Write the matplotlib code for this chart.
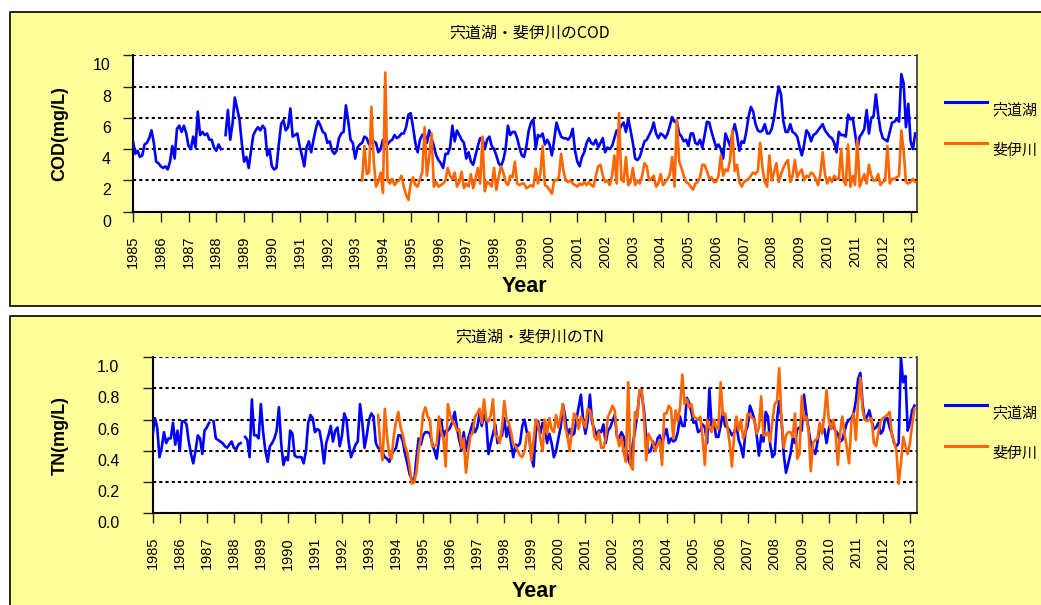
import numpy as np
import matplotlib.pyplot as plt
from matplotlib.patches import Rectangle
from matplotlib.lines import Line2D
from matplotlib.transforms import ScaledTranslation

plt.rcParams['font.family'] = ['Liberation Sans', 'Noto Sans CJK JP']
JP = ['Noto Sans CJK JP', 'DejaVu Sans']

BLUE = '#0000FF'
ORANGE = '#FF6600'
PANEL = '#FFFF99'

nan = np.nan

# monthly COD (mg/L), lake from Jan 1985, river from Apr 1993
cod_lake_start = 1985.0
cod_lake = [
    4.5, 3.7, 3.9, 3.5, 3.6, 4.3, 4.4, 4.7, 5.2, 4.4, 3.2, 3.1,   # 1985
    2.9, 2.8, 2.9, 2.7, 3.2, 4.2, 3.4, 5.3, 5.5, 5.1, 5.5, 5.0,   # 1986
    4.2, 4.0, 4.8, 4.1, 6.4, 4.9, 5.1, 4.9, 5.0, 4.6, 4.6, 4.1,   # 1987
    3.9, 4.3, 4.0, nan, 4.9, 6.5, 4.6, 5.6, 7.3, 6.6, 5.9, 4.4,   # 1988
    3.2, 3.5, 2.8, 3.9, 4.9, 5.2, 5.4, 5.2, 5.5, 5.3, 3.6, 4.0,   # 1989
    2.9, 2.7, 2.8, 4.3, 5.6, 5.85, 5.2, 5.4, 6.6, 4.8, 4.9, 5.0,  # 1990
    4.2, 3.6, 2.9, 4.1, 4.5, 3.8, 4.6, 5.3, 5.8, 5.5, 5.1, 5.0,   # 1991
    4.4, 4.5, 3.9, 3.7, 3.9, 4.7, 5.0, 5.1, 6.8, 5.8, 4.6, 4.4,   # 1992
    3.4, 4.1, 4.3, 4.4, 4.8, 4.7, 4.3, 4.4, 4.5, 4.4, 3.8, 4.0,   # 1993
    4.6, 4.6, 4.3, 4.5, 4.6, 4.9, 4.7, 4.8, 5.0, 5.0, 5.4, 6.2,   # 1994
    6.3, 5.4, 4.4, 3.8, 4.6, 4.9, 5.0, 4.4, 5.2, 4.7, 4.2, 3.6,   # 1995
    3.3, 3.1, 2.8, 3.7, 3.7, 4.1, 5.5, 4.5, 5.2, 4.9, 4.6, 4.4,   # 1996
    3.4, 3.8, 3.2, 3.0, 3.6, 4.2, 4.7, 4.7, 4.0, 4.6, 4.8, 4.2,   # 1997
    4.0, 3.6, 3.1, 2.9, 3.3, 4.0, 5.5, 4.9, 5.1, 5.1, 4.7, 4.1,   # 1998
    3.6, 3.5, 4.2, 5.2, 5.7, 5.9, 4.0, 4.9, 4.8, 5.0, 4.3, 4.6,   # 1999
    4.3, 3.6, 4.6, 5.7, 5.2, 4.8, 4.7, 4.7, 4.6, 4.8, 5.3, 3.9,   # 2000
    3.2, 2.9, 3.5, 3.8, 4.4, 4.7, 4.4, 4.3, 4.6, 4.1, 4.4, 4.7,   # 2001
    3.8, 4.1, 4.0, 4.2, 4.7, 5.2, 5.2, 5.5, 5.7, 5.1, 5.95, 5.2,  # 2002
    4.4, 3.4, 3.3, 3.5, 4.0, 4.5, 4.6, 4.9, 5.2, 5.7, 5.0, 4.7,   # 2003
    5.0, 4.9, 4.7, 5.0, 5.5, 6.05, 5.75, 5.75, 5.0, 4.8, 4.5, 4.6,  # 2004
    4.2, 5.0, 5.0, 4.4, 4.3, 4.6, 4.1, 4.9, 5.75, 5.7, 5.1, 4.6,  # 2005
    4.1, 4.3, 4.0, 3.4, 5.0, 4.6, 4.2, 5.0, 5.6, 4.9, 3.9, 4.5,   # 2006
    4.4, 5.1, 6.1, 6.7, 6.4, 5.6, 5.2, 5.1, 5.2, 5.6, 5.0, 5.0,   # 2007
    5.3, 6.0, 7.1, 8.0, 7.5, 5.8, 5.1, 5.1, 5.6, 5.1, 5.0, 4.8,   # 2008
    4.15, 3.6, 4.3, 5.2, 5.0, 4.5, 4.9, 5.0, 5.2, 5.4, 5.6, 5.2,  # 2009
    5.0, 4.8, 4.7, 4.4, 3.8, 5.1, 4.9, 4.9, 4.8, 6.2, 5.9, 6.0,   # 2010
    5.0, 4.0, 4.8, 5.0, 5.3, 6.5, 5.0, 6.0, 6.1, 7.5, 6.2, 5.2,   # 2011
    4.7, 4.6, 4.5, 5.1, 5.7, 5.75, 5.95, 5.75, 8.8, 8.2, 5.4, 6.9,  # 2012
    4.5, 4.0, 5.0,                                                # 2013
]
cod_river_start = 1993 + 3 / 12
cod_river = [
    2.0, 4.2, 2.4, 2.5, 6.7, 3.3, 1.6, 1.9, 2.5,                  # 1993
    1.2, 8.9, 2.0, 1.8, 2.1, 1.7, 1.9, 2.0, 2.3, 1.6, 1.1, 0.75,  # 1994
    1.8, 2.2, 1.7, 1.6, 2.1, 2.5, 5.4, 2.3, 3.5, 5.0, 1.6, 1.9,   # 1995
    1.6, 1.7, 1.8, 2.0, 2.8, 2.3, 2.1, 2.5, 1.6, 1.9, 2.55, 1.5,  # 1996
    1.8, 1.6, 2.4, 1.5, 2.1, 2.8, 1.8, 4.8, 1.3, 1.9, 1.8, 1.6,   # 1997
    2.8, 1.4, 2.2, 2.9, 2.5, 1.9, 1.7, 2.3, 2.2, 3.2, 1.8, 1.7,   # 1998
    1.8, 1.8, 1.5, 1.6, 1.7, 1.6, 2.75, 1.8, 2.4, 4.2, 1.7, 1.6,  # 1999
    1.4, 1.15, 2.0, 2.0, 2.2, 3.7, 2.6, 2.0, 1.9, 2.0, 1.8, 1.7,  # 2000
    1.6, 1.8, 1.7, 1.9, 1.7, 1.9, 1.7, 1.6, 2.3, 2.9, 3.0, 2.3,   # 2001
    1.9, 2.0, 1.7, 2.3, 3.6, 1.8, 6.3, 2.1, 1.9, 3.5, 1.7, 1.9,   # 2002
    2.8, 1.7, 2.0, 1.8, 2.3, 3.1, 2.9, 2.0, 2.1, 2.3, 1.6, 1.8,   # 2003
    2.4, 1.7, 1.9, 2.1, 2.4, 3.5, 1.6, 5.9, 3.2, 2.8, 2.3, 1.9,   # 2004
    1.8, 1.6, 1.4, 1.8, 1.9, 2.2, 3.0, 3.0, 2.6, 2.1, 2.2, 1.9,   # 2005
    1.9, 2.3, 3.6, 2.3, 2.7, 2.6, 3.3, 5.2, 2.6, 3.0, 1.9, 1.6,   # 2006
    1.9, 2.0, 2.1, 2.3, 2.5, 2.4, 2.6, 4.4, 2.8, 1.9, 1.6, 3.6,   # 2007
    2.0, 2.5, 3.1, 1.9, 2.4, 2.8, 3.1, 3.3, 1.9, 2.3, 3.3, 2.2,   # 2008
    2.5, 2.7, 2.0, 2.3, 2.2, 2.5, 2.4, 2.1, 1.7, 2.4, 3.8, 2.4,   # 2009
    1.8, 2.2, 1.9, 2.3, 2.1, 2.1, 4.0, 2.0, 1.7, 4.3, 1.6, 2.3,   # 2010
    1.7, 4.6, 1.6, 2.0, 2.4, 1.8, 3.0, 2.3, 2.0, 2.0, 2.4, 1.7,   # 2011
    1.9, 2.0, 4.2, 1.8, 2.1, 2.1, 2.2, 2.3, 5.2, 3.9, 1.9, 1.8,   # 2012
    1.9, 2.1, 1.9,                                                # 2013
]

# monthly TN (mg/L), lake from Jan 1985, river from May 1993
tn_lake_start = 1985.0
tn_lake = [
    0.50, 0.61, 0.55, 0.36, 0.42, 0.52, 0.45, 0.48, 0.48, 0.58, 0.44, 0.53,  # 1985
    0.40, 0.59, 0.59, 0.57, 0.46, 0.38, 0.32, 0.40, 0.50, 0.48, 0.38, 0.53,  # 1986
    0.55, 0.58, nan, 0.59, 0.48, 0.47, 0.46, 0.45, 0.43, 0.42, 0.44, 0.46,   # 1987
    0.42, 0.41, 0.44, 0.45, nan, 0.49, 0.47, 0.36, 0.73, 0.50, 0.50, 0.48,   # 1988
    0.70, 0.52, 0.40, 0.33, 0.43, 0.45, 0.48, 0.53, 0.68, 0.45, 0.31, 0.36,  # 1989
    0.34, 0.53, 0.51, 0.37, 0.36, 0.36, 0.36, 0.32, 0.40, 0.58, 0.63, 0.61,  # 1990
    0.52, 0.54, 0.53, 0.45, 0.32, 0.45, 0.50, 0.56, 0.46, 0.53, 0.55, 0.43,  # 1991
    0.50, 0.64, 0.60, 0.45, 0.36, 0.40, 0.44, 0.46, 0.70, 0.58, 0.42, 0.50,  # 1992
    0.60, 0.64, 0.62, 0.45, 0.42, 0.41, 0.39, 0.36, 0.35, 0.33, 0.38, 0.40,  # 1993
    0.42, 0.50, 0.50, 0.46, 0.38, 0.32, 0.25, 0.22, 0.20, 0.35, 0.48, 0.44,  # 1994
    0.50, 0.52, 0.52, 0.51, 0.45, 0.40, 0.35, 0.47, 0.60, 0.49, 0.53, 0.53,  # 1995
    0.55, 0.59, 0.65, 0.55, 0.47, 0.41, 0.52, 0.41, 0.48, 0.53, 0.58, 0.52,  # 1996
    0.55, 0.64, 0.56, 0.63, 0.59, 0.38, 0.45, 0.51, 0.57, 0.45, 0.48, 0.50,  # 1997
    0.61, 0.49, 0.56, 0.45, 0.36, 0.44, 0.43, 0.45, 0.56, 0.60, 0.52, 0.50,  # 1998
    0.36, 0.30, 0.52, 0.59, 0.51, 0.58, 0.55, 0.45, 0.51, 0.45, 0.36, 0.40,  # 1999
    0.48, 0.55, 0.70, 0.62, 0.49, 0.54, 0.50, 0.51, 0.60, 0.68, 0.76, 0.60,  # 2000
    0.51, 0.59, 0.76, 0.58, 0.54, 0.50, 0.53, 0.52, 0.57, 0.45, 0.53, 0.55,  # 2001
    0.59, 0.63, 0.49, 0.48, 0.52, 0.49, 0.41, 0.35, 0.31, 0.44, 0.53, 0.63,  # 2002
    0.78, 0.76, 0.66, 0.48, 0.39, 0.40, 0.46, 0.40, 0.48, 0.50, 0.44, 0.50,  # 2003
    0.54, 0.45, 0.48, 0.46, 0.47, 0.52, 0.62, 0.56, 0.56, 0.74, 0.71, 0.65,  # 2004
    0.58, 0.59, 0.52, 0.53, 0.57, 0.55, 0.45, 0.80, 0.56, 0.59, 0.49, 0.49,  # 2005
    0.56, 0.65, 0.56, 0.55, 0.53, 0.50, 0.52, 0.57, 0.47, 0.43, 0.36, 0.52,  # 2006
    0.56, 0.69, 0.65, 0.60, 0.50, 0.37, 0.50, 0.46, 0.65, 0.62, 0.44, 0.36,  # 2007
    0.38, 0.60, 0.72, 0.60, 0.38, 0.26, 0.32, 0.38, 0.48, 0.45, 0.54, 0.55,  # 2008
    0.53, 0.76, 0.64, 0.54, 0.45, 0.41, 0.38, 0.46, 0.56, 0.52, 0.54, 0.45,  # 2009
    0.54, 0.59, 0.55, 0.53, 0.51, 0.46, 0.47, 0.53, 0.58, 0.60, 0.61, 0.64,  # 2010
    0.72, 0.86, 0.90, 0.70, 0.60, 0.62, 0.66, 0.59, 0.54, 0.55, 0.58, 0.51,  # 2011
    0.53, 0.61, 0.61, 0.55, 0.51, 0.45, 0.43, 0.45, 1.00, 0.84, 0.88, 0.53,  # 2012
    0.58, 0.66, 0.69,                                                        # 2013
]
tn_river_start = 1993 + 4 / 12
tn_river = [
    0.63, 0.44, 0.34, 0.67, 0.49, 0.37, 0.35, 0.50,                          # 1993
    0.59, 0.65, 0.55, 0.50, 0.43, 0.39, 0.30, 0.19, 0.20, 0.26, 0.40, 0.49,  # 1994
    0.64, 0.68, 0.62, 0.60, 0.43, 0.43, 0.44, 0.62, 0.52, 0.48, 0.30, 0.70,  # 1995
    0.63, 0.59, 0.57, 0.53, 0.54, 0.42, 0.48, 0.26, 0.40, 0.50, 0.51, 0.62,  # 1996
    0.64, 0.67, 0.58, 0.73, 0.60, 0.59, 0.63, 0.73, 0.50, 0.49, 0.45, 0.55,  # 1997
    0.72, 0.60, 0.58, 0.52, 0.44, 0.43, 0.40, 0.37, 0.36, 0.40, 0.50, 0.52,  # 1998
    0.34, 0.47, 0.60, 0.57, 0.48, 0.40, 0.60, 0.51, 0.61, 0.54, 0.52, 0.63,  # 1999
    0.55, 0.62, 0.70, 0.55, 0.50, 0.40, 0.53, 0.64, 0.62, 0.54, 0.62, 0.59,  # 2000
    0.55, 0.67, 0.66, 0.61, 0.49, 0.47, 0.52, 0.42, 0.42, 0.48, 0.62, 0.65,  # 2001
    0.69, 0.66, 0.50, 0.43, 0.49, 0.39, 0.33, 0.84, 0.31, 0.28, 0.65, 0.61,  # 2002
    0.79, 0.79, 0.62, 0.34, 0.51, 0.48, 0.45, 0.40, 0.44, 0.47, 0.31, 0.64,  # 2003
    0.64, 0.69, 0.67, 0.48, 0.66, 0.59, 0.68, 0.89, 0.70, 0.73, 0.68, 0.70,  # 2004
    0.62, 0.61, 0.60, 0.62, 0.48, 0.31, 0.60, 0.55, 0.52, 0.60, 0.55, 0.54,  # 2005
    0.84, 0.63, 0.64, 0.55, 0.45, 0.30, 0.50, 0.62, 0.53, 0.60, 0.48, 0.52,  # 2006
    0.64, 0.63, 0.61, 0.60, 0.51, 0.55, 0.75, 0.50, 0.50, 0.52, 0.46, 0.60,  # 2007
    0.70, 0.72, 0.93, 0.60, 0.42, 0.50, 0.52, 0.52, 0.49, 0.64, 0.35, 0.38,  # 2008
    0.75, 0.60, 0.62, 0.53, 0.27, 0.45, 0.47, 0.48, 0.58, 0.51, 0.62, 0.79,  # 2009
    0.60, 0.54, 0.60, 0.52, 0.31, 0.51, 0.62, 0.51, 0.42, 0.32, 0.58, 0.64,  # 2010
    0.47, 0.72, 0.87, 0.66, 0.60, 0.59, 0.60, 0.61, 0.45, 0.43, 0.52, 0.59,  # 2011
    0.61, 0.62, 0.63, 0.65, 0.50, 0.46, 0.40, 0.19, 0.32, 0.49, 0.43, 0.38,  # 2012
    0.45, 0.57, 0.67,                                                        # 2013
]

years = list(range(1985, 2014))
lake_name = '宍道湖'
river_name = '斐伊川'


def months(start, values):
    return start + np.arange(len(values)) / 12.0


def panel(fig, rect, ax_rect, title, ylabel, lake, river, yticks, ytick_fmt,
          xmax, legend_y, ylab_pad):
    fig.add_artist(Rectangle(rect[:2], rect[2], rect[3],
                             transform=fig.transFigure, facecolor=PANEL,
                             edgecolor='black', linewidth=1.2, zorder=0))
    ax = fig.add_axes(ax_rect)
    ax.set_facecolor('white')

    ax.plot(months(*lake), lake[1], color=BLUE, lw=1.9, zorder=3)
    ax.plot(months(*river), river[1], color=ORANGE, lw=1.9, zorder=4)

    ax.set_xlim(1985, xmax)
    ax.set_ylim(yticks[0], yticks[-1])
    ax.set_xticks(years)
    ax.set_xticklabels([str(y) for y in years], rotation=90, fontsize=10.5)
    ax.set_yticks(yticks)
    ax.set_yticklabels([ytick_fmt.format(v) for v in yticks], fontsize=11.5)
    ax.tick_params(direction='out', length=7, width=1, color='#222222')
    ax.tick_params(axis='x', pad=10)
    ax.tick_params(axis='y', pad=ylab_pad)

    ax.grid(axis='y', color='black', linestyle=(0, (1.5, 1.5)), lw=1.5)
    ax.set_axisbelow(True)
    for side in ('left', 'bottom'):
        ax.spines[side].set_linewidth(1.5)
    ax.spines['right'].set_color('#333333')
    ax.spines['right'].set_linewidth(1.2)
    ax.spines['top'].set_visible(False)

    # y labels sit a little below their ticks
    off = ScaledTranslation(0, -9 / 100, fig.dpi_scale_trans)
    for lab in ax.get_yticklabels():
        lab.set_transform(lab.get_transform() + off)

    top = rect[1] + rect[3]
    fig.text(0.509, top - 21 / 605, title, family=JP, fontsize=11.5,
             ha='center', va='center')
    fig.text(0.0576, ax_rect[1] + ax_rect[3] / 2, ylabel, rotation=90,
             fontsize=13, fontweight='bold', ha='center', va='center')
    fig.text(ax_rect[0] + ax_rect[2] / 2, rect[1] + 20 / 605, 'Year',
             fontsize=15.5, fontweight='bold', ha='center', va='center')

    for y, color, name in ((legend_y, BLUE, lake_name),
                           (legend_y - 41 / 605, ORANGE, river_name)):
        fig.add_artist(Line2D([945 / 1041, 987 / 1041], [y, y],
                              transform=fig.transFigure, color=color,
                              lw=2.2))
        fig.text(992 / 1041, y - 8 / 605, name, family=JP, fontsize=10.8,
                 ha='left', va='center')
    return ax


fig = plt.figure(figsize=(10.41, 6.05), dpi=100)

panel(fig, (10 / 1041, 1 - 306 / 605, 1.0, 294 / 605),
      [133 / 1041, 1 - 211.7 / 605, 783.7 / 1041, 156.4 / 605],
      '宍道湖・斐伊川のCOD', 'COD(mg/L)',
      (cod_lake_start, cod_lake), (cod_river_start, cod_river),
      [0, 2, 4, 6, 8, 10], '{:d}', 2013.22, 1 - 101.7 / 605, 9)

panel(fig, (10 / 1041, -0.01, 1.0, 1 - 316 / 605 + 0.01),
      [152.7 / 1041, 1 - 513.3 / 605, 764 / 1041, 156 / 605],
      '宍道湖・斐伊川のTN', 'TN(mg/L)',
      (tn_lake_start, tn_lake), (tn_river_start, tn_river),
      [0.0, 0.2, 0.4, 0.6, 0.8, 1.0], '{:.1f}', 2013.25, 1 - 405 / 605, 17)

fig.savefig('out.png', dpi=100)
